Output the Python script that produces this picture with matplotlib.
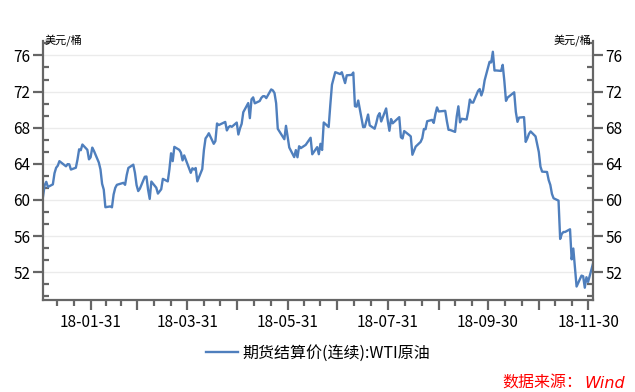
import pandas as pd
import matplotlib
matplotlib.use('Agg')
import matplotlib.pyplot as plt
import matplotlib.dates as mdates
from matplotlib.ticker import FixedLocator, FuncFormatter, MultipleLocator, AutoMinorLocator

plt.rcParams['font.family'] = ['Noto Sans CJK SC', 'DejaVu Sans']

# WTI continuous settlement, USD/bbl, one value per trading day
jan = [60.37, 61.63, 62.01, 61.44, 61.73, 62.96, 63.57, 63.80, 64.30, 63.73, 63.97,
       63.95, 63.37, 63.57, 64.47, 65.61, 65.51, 66.14, 65.56, 64.50, 64.73]
feb = [65.80, 65.45, 64.15, 63.39, 61.79, 61.15, 59.20, 59.29, 59.19, 60.60, 61.34,
       61.68, 61.90, 61.68, 62.77, 63.55, 63.91, 63.01, 61.64]
mar = [60.99, 61.25, 62.57, 62.60, 61.15, 60.12, 62.04, 61.36, 60.71, 60.96, 61.19,
       62.34, 62.06, 63.40, 65.17, 64.30, 65.88, 65.55, 65.25, 64.38, 64.94]
apr = [63.01, 63.51, 63.37, 63.54, 62.06, 63.42, 65.51, 66.82, 67.07, 67.39, 66.22,
       66.52, 68.47, 68.29, 68.38, 68.64, 67.70, 68.05, 68.19, 68.10, 68.57]
may = [67.25, 67.93, 68.43, 69.72, 70.73, 69.06, 71.14, 71.36, 70.70, 70.96, 71.31,
       71.49, 71.49, 71.28, 72.24, 72.13, 71.84, 70.71, 67.88, 66.73, 68.21, 67.04]
jun = [65.81, 64.75, 65.52, 64.73, 65.95, 65.74, 66.10, 66.36, 66.64, 66.89, 65.06,
       65.85, 65.07, 66.22, 65.54, 68.58, 68.08, 70.53, 72.76, 73.45, 74.15]
jul = [73.94, 74.14, 72.94, 73.80, 73.85, 74.11, 70.38, 70.33, 71.01, 68.06, 68.08,
       68.76, 69.46, 68.26, 67.89, 68.52, 69.30, 69.61, 68.69, 70.13, 68.76]
aug = [67.66, 68.96, 68.49, 69.01, 69.17, 66.94, 66.81, 67.63, 67.20, 67.04, 65.01,
       65.46, 65.91, 66.43, 66.84, 67.86, 67.83, 68.72, 68.87, 68.53, 69.51, 70.25, 69.80]
sep = [69.87, 68.72, 67.77, 67.75, 67.54, 69.25, 70.37, 68.59, 68.99, 68.91, 69.85,
       71.12, 70.80, 70.78, 72.08, 72.28, 71.57, 72.12, 73.25]
oct_ = [75.30, 75.23, 76.41, 74.33, 74.34, 74.29, 74.96, 73.17, 70.97, 71.34, 71.78,
        71.92, 69.75, 68.65, 69.12, 69.17, 66.43, 66.82, 67.33, 67.59, 67.04, 66.18, 65.31]
nov = [63.69, 63.14, 63.10, 62.21, 61.67, 60.67, 60.19, 59.93, 55.69, 56.25, 56.46,
       56.46, 56.76, 53.43, 54.63, 50.42, 51.63, 51.56, 50.29, 51.45, 50.93]
dec = [52.95]

holidays = ['2018-01-15', '2018-02-19', '2018-03-30', '2018-05-28',
            '2018-07-04', '2018-09-03', '2018-11-22']

series_name = '期货结算价(连续):WTI原油'
unit = '美元/桶'

wti = jan + feb + mar + apr + may + jun + jul + aug + sep + oct_ + nov + dec
dates = pd.bdate_range('2018-01-02', '2018-12-03').drop(pd.to_datetime(holidays))

fig = plt.figure(figsize=(6.35, 3.92), dpi=100)
ax = fig.add_axes([43 / 635, 1 - 300 / 392, 550 / 635, 259 / 392])

line, = ax.plot(dates, wti, color='#4F7FBD', lw=1.7, label=series_name)

ax.set_xlim(pd.Timestamp('2018-01-02'), pd.Timestamp('2018-12-03'))
ax.set_ylim(48.93, 77.6)

# month ends as major ticks, thirds of the month as minor ticks
month_ends = pd.date_range('2017-12-31', '2018-11-30', freq=pd.offsets.MonthEnd())
majors = [mdates.date2num(d) for d in month_ends[1:]]
minors = []
for a, b in zip(month_ends[:-1], month_ends[1:]):
    a, b = mdates.date2num(a), mdates.date2num(b)
    minors += [a + (b - a) / 3, a + 2 * (b - a) / 3]
ax.xaxis.set_major_locator(FixedLocator(majors))
ax.xaxis.set_minor_locator(FixedLocator(minors))


def fmt_date(x, pos):
    d = mdates.num2date(x)
    return d.strftime('%y-%m-%d') if d.month % 2 == 1 else ''


ax.xaxis.set_major_formatter(FuncFormatter(fmt_date))

ax.yaxis.set_major_locator(MultipleLocator(4))
ax.yaxis.set_minor_locator(AutoMinorLocator(3))
ax.grid(axis='y', color='#ebebeb', lw=1)
ax.set_axisbelow(True)

gray = '#666666'
for s in ['left', 'right', 'bottom']:
    ax.spines[s].set_color(gray)
    ax.spines[s].set_linewidth(1.6)
ax.spines['top'].set_visible(False)

ax.tick_params(axis='x', which='major', direction='out', length=7, width=1.6,
               color=gray, labelsize=11, pad=3)
ax.tick_params(axis='x', which='minor', direction='out', length=4, width=1.6, color=gray)
ax.tick_params(axis='y', which='major', direction='out', length=7, width=1.6,
               color=gray, labelsize=11, pad=2, left=True, right=True, labelright=True)
ax.tick_params(axis='y', which='minor', direction='in', length=4, width=1.6,
               color=gray, left=True, right=True)

fig.text(45 / 635, 1 - 40 / 392, unit, fontsize=8, ha='left', va='center')
fig.text(591 / 635, 1 - 40 / 392, unit, fontsize=8, ha='right', va='center')

fig.legend(handles=[line], loc='center', bbox_to_anchor=(318 / 635, 1 - 353 / 392),
           frameon=False, fontsize=11.5, handlelength=2.0, handletextpad=0.3)

# source note: CJK part and italic Latin part
r = fig.canvas.get_renderer()
t = fig.text(625 / 635, 1 - 383 / 392, 'Wind', color='red', fontsize=11.5,
             family='DejaVu Sans', style='italic', ha='right', va='center')
w = t.get_window_extent(r).width
fig.text((625 - w - 2) / 635, 1 - 383 / 392, '数据来源：', color='red', fontsize=11.5,
         ha='right', va='center')

fig.savefig('out.png', dpi=100)
